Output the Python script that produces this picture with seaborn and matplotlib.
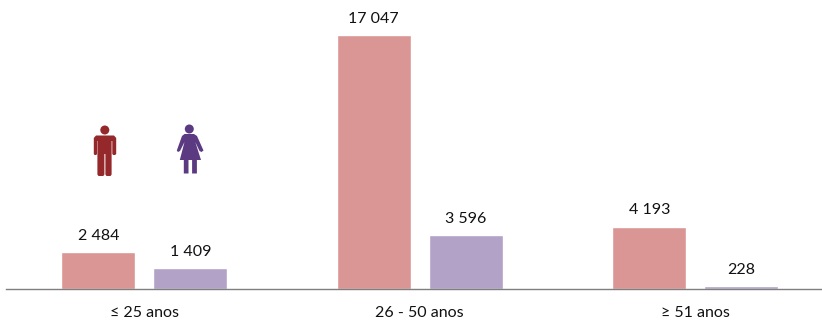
import matplotlib
matplotlib.use("Agg")
import matplotlib.pyplot as plt
from matplotlib.patches import Circle, Polygon
from matplotlib.transforms import Affine2D
import seaborn as sns
import pandas as pd

groups = ["≤ 25 anos", "26 - 50 anos", "≥ 51 anos"]
men = [2484, 17047, 4193]
women = [1409, 3596, 228]
men_label = "Homens"
women_label = "Mulheres"

sns.set_style("white")
plt.rcParams["font.family"] = ["Lato", "DejaVu Sans"]

df = pd.DataFrame({
    "group": groups * 2,
    "sex": [men_label] * 3 + [women_label] * 3,
    "value": men + women,
})

fig = plt.figure(figsize=(8.22, 3.2), dpi=100)
ax = fig.add_axes([6 / 822, 1 - 289 / 320, (822 - 6) / 822, (289 - 35) / 320])
sns.barplot(data=df, x="group", y="value", hue="sex", ax=ax,
            palette=["#d99694", "#b3a2c7"], saturation=1, width=0.668,
            gap=0.195, legend=False)
ax.set_xlim(-0.5020, 2.4600)
ax.set_ylim(0, max(men))
ax.set_xlabel("")
ax.set_ylabel("")
ax.set_yticks([])
ax.tick_params(axis="x", length=0, labelsize=11.5, pad=12, labelcolor="#111111")
for s in ["top", "left", "right"]:
    ax.spines[s].set_visible(False)
ax.spines["bottom"].set_color("#7f7f7f")
ax.spines["bottom"].set_linewidth(1)

for c in ax.containers:
    labels = [f"{v:,.0f}".replace(",", " ") for v in c.datavalues]
    for t in ax.bar_label(c, labels=labels, padding=6.5, fontsize=11.5, color="#111111"):
        t.set_clip_on(False)

# Pictograms are placed in figure pixels, measured from the top-left corner.
to_px = Affine2D().scale(1, -1).translate(0, 320)


def add_shape(points, color):
    fig.add_artist(Polygon(points, closed=True, facecolor=color, edgecolor="none",
                           transform=to_px))


def add_head(cx, cy, r, color):
    fig.add_artist(Circle((cx, cy), r, facecolor=color, edgecolor="none", transform=to_px))


MAN = "#95282a"
WOMAN = "#5b3a82"

# Man
add_head(104.8, 130, 4.5, MAN)
add_shape([(96, 135.5), (114, 135.5), (116.2, 138), (116.2, 154), (115, 155), (113.2, 155),
           (112.3, 154), (112.3, 141), (111.6, 141), (111.6, 174.5), (110.5, 176), (106.5, 176),
           (105.4, 174.5), (105.4, 154), (104.4, 154), (104.4, 174.5), (103.3, 176), (98.5, 176),
           (97.4, 174.5), (97.4, 141), (97, 141), (97, 154), (96.2, 155), (94.6, 155),
           (93.8, 154), (93.8, 138)], MAN)

# Woman
add_head(189.3, 129, 4.5, WOMAN)
add_shape([(184.5, 134), (194, 134), (197, 136), (203.5, 150.5), (201.5, 152),
           (199.5, 151), (195.3, 142), (201, 160), (196.9, 160), (196.9, 173.5),
           (192.1, 173.5), (192.1, 160), (188.5, 160), (188.5, 173.5), (183.8, 173.5),
           (183.8, 160), (179.8, 160), (184.5, 142), (180, 151), (178, 152), (176.8, 150.5),
           (182, 136)], WOMAN)

fig.savefig("out.png", dpi=100)
